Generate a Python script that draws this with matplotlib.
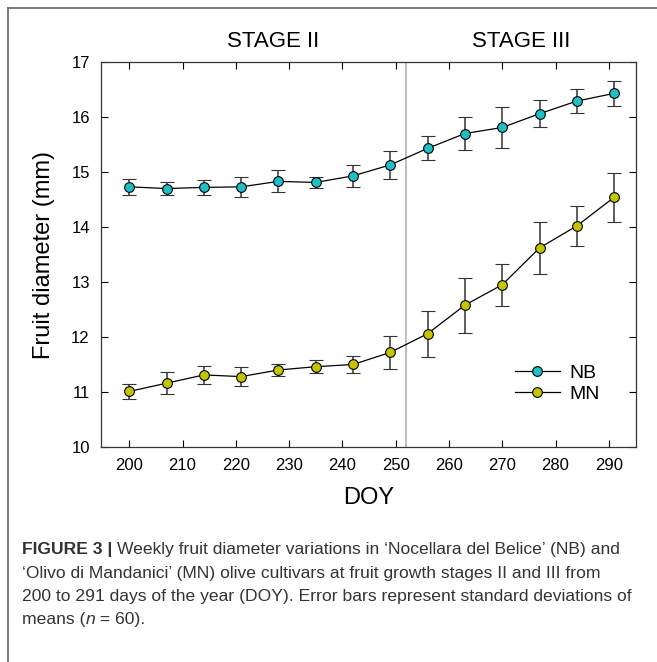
import numpy as np
import matplotlib
matplotlib.use("Agg")
import matplotlib.pyplot as plt
from matplotlib.lines import Line2D

plt.rcParams['font.family'] = ['Liberation Sans', 'DejaVu Sans']

# day of year
doy = [200, 207, 214, 221, 228, 235, 242, 249, 256, 263, 270, 277, 284, 291]
# Nocellara del Belice
nb_mean = [14.73, 14.70, 14.72, 14.73, 14.83, 14.81, 14.93, 15.13, 15.43, 15.70, 15.81, 16.06, 16.29, 16.43]
nb_sd = [0.15, 0.12, 0.13, 0.18, 0.20, 0.10, 0.20, 0.26, 0.22, 0.30, 0.37, 0.25, 0.22, 0.23]
# Olivo di Mandanici
mn_mean = [11.01, 11.16, 11.31, 11.28, 11.40, 11.46, 11.50, 11.72, 12.06, 12.58, 12.95, 13.62, 14.02, 14.54]
mn_sd = [0.13, 0.20, 0.16, 0.17, 0.11, 0.115, 0.15, 0.30, 0.42, 0.50, 0.38, 0.47, 0.37, 0.45]
stage_split = 252
xticks = [200, 210, 220, 230, 240, 250, 260, 270, 280, 290]
yticks = [10, 11, 12, 13, 14, 15, 16, 17]

fig = plt.figure(figsize=(6.57, 6.62), dpi=100)
ax = fig.add_axes([0.1537, 0.3248, 0.8143, 0.5815])

ax.axvline(stage_split, color='#b0b0b0', lw=1.2, zorder=1)

ax.errorbar(doy, nb_mean, yerr=nb_sd, fmt='-o', color='black', lw=0.9,
            ecolor='#333333', elinewidth=1.1, capsize=5, capthick=1.1,
            marker='o', ms=7, mfc='#1fbfc6', mec='black', mew=0.8, label='NB', zorder=3)
ax.errorbar(doy, mn_mean, yerr=mn_sd, fmt='-o', color='black', lw=0.9,
            ecolor='#333333', elinewidth=1.1, capsize=5, capthick=1.1,
            marker='o', ms=7, mfc='#c4c400', mec='black', mew=0.8, label='MN', zorder=3)

ax.set_xlim(194.7, 295.1)
ax.set_ylim(10, 17)
ax.set_xticks(xticks)
ax.set_yticks(yticks)
ax.tick_params(direction='in', top=True, right=True, labelsize=12, length=5, width=0.8,
               pad=8)
for s in ax.spines.values():
    s.set_linewidth(0.9)
    s.set_color('#333333')

ax.set_xlabel('DOY', fontsize=17, labelpad=10)
ax.set_ylabel('Fruit diameter (mm)', fontsize=17, labelpad=12)

ax.text(227, 17.38, 'STAGE II', fontsize=16, ha='center', va='center')
ax.text(273.5, 17.38, 'STAGE III', fontsize=16, ha='center', va='center')

handles, labels = ax.get_legend_handles_labels()
handles = [h[0] for h in handles]
ax.legend(handles, labels, loc='lower right', bbox_to_anchor=(0.965, 0.07), frameon=False,
          fontsize=14, handlelength=2.3, handletextpad=0.5, labelspacing=0.15)

# outer frame (top and left edges)
fig.add_artist(Line2D([0.0122, 1.0], [0.988, 0.988], color='#666666', lw=1.2))
fig.add_artist(Line2D([0.0122, 0.0122], [0.0, 0.988], color='#666666', lw=1.2))

# caption
cap_color = '#333333'
cap_font = ['Liberation Sans Narrow', 'Liberation Sans', 'DejaVu Sans']
cap_size = 12.6
renderer = fig.canvas.get_renderer()


def draw_pieces(pieces, x0, y):
    x = x0
    for txt, kw in pieces:
        t = fig.text(x, y, txt, fontsize=cap_size, color=cap_color, family=cap_font,
                     va='baseline', ha='left', **kw)
        bb = t.get_window_extent(renderer=renderer)
        x = x + bb.width / fig.bbox.width


x0 = 22 / 657
lines = [
    [('FIGURE 3 | ', {'weight': 'bold'}),
     ('Weekly fruit diameter variations in \u2018Nocellara del Belice\u2019 (NB) and', {})],
    [('\u2018Olivo di Mandanici\u2019 (MN) olive cultivars at fruit growth stages II and III from', {})],
    [('200 to 291 days of the year (DOY). Error bars represent standard deviations of', {})],
    [('means (', {}), ('n', {'style': 'italic'}), (' = 60).', {})],
]
base_y = [554, 578, 601, 624]
for pieces, yb in zip(lines, base_y):
    draw_pieces(pieces, x0, 1 - yb / 662)

fig.savefig('out.png', dpi=100)
